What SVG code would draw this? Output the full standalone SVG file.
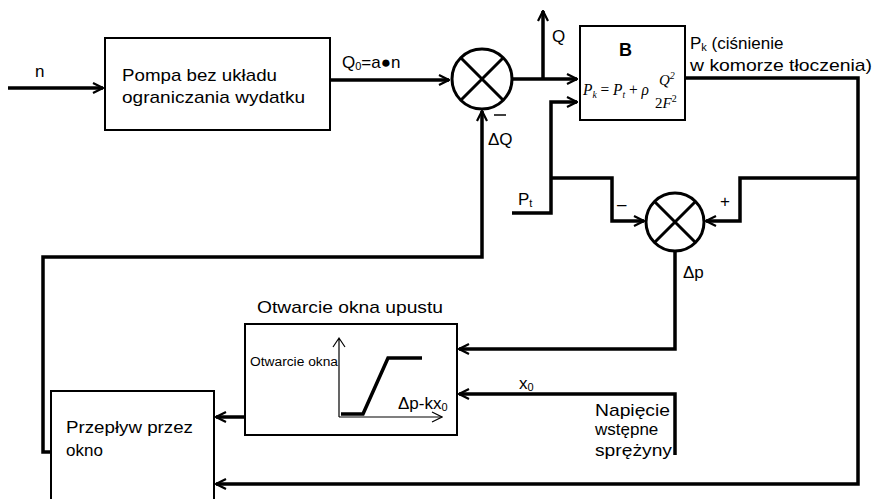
<svg xmlns="http://www.w3.org/2000/svg" width="873" height="499" viewBox="0 0 873 499">
<defs>
<marker id="arr" viewBox="0 0 12 12" refX="11" refY="6" markerWidth="12" markerHeight="12" markerUnits="userSpaceOnUse" orient="auto">
<path d="M1,1 L11,6 L1,11" fill="none" stroke="#000" stroke-width="2.2"/>
</marker>
<marker id="arrs" viewBox="0 0 12 12" refX="11" refY="6" markerWidth="12" markerHeight="12" markerUnits="userSpaceOnUse" orient="auto">
<path d="M1,1 L11,6 L1,11" fill="none" stroke="#000" stroke-width="1.2"/>
</marker>
</defs>
<style>
.t{font-family:"Liberation Sans",Arial,sans-serif;font-size:17px;fill:#000}
.s{font-family:"Liberation Sans",Arial,sans-serif;font-size:12px;fill:#000}
.m{font-family:"Liberation Serif","Times New Roman",serif;font-style:italic;fill:#000}
.box{fill:#fff;stroke:#000;stroke-width:2}
.ln{fill:none;stroke:#000;stroke-width:3.5}
.sum{fill:#fff;stroke:#000;stroke-width:3}
</style>
<rect width="873" height="499" fill="#fff"/>
<g id="connectors">
<path class="ln" d="M8,88 H103" marker-end="url(#arr)"/>
<path class="ln" d="M330,80 H449" marker-end="url(#arr)"/>
<path class="ln" d="M513,79 H577" marker-end="url(#arr)"/>
<path class="ln" d="M543,79 V11" marker-end="url(#arr)"/>
<path class="ln" d="M512,213 H551 V102 H577" marker-end="url(#arr)"/>
<path class="ln" d="M551,178 H612 V221 H644" marker-end="url(#arr)"/>
<path class="ln" d="M685,78 H858 V484 H216" marker-end="url(#arr)"/>
<path class="ln" d="M858,178 H740 V221 H706" marker-end="url(#arr)"/>
<path class="ln" d="M675,251 V349 H459" marker-end="url(#arr)"/>
<path class="ln" d="M675,455 V394 H459" marker-end="url(#arr)"/>
<path class="ln" d="M245,417 H216" marker-end="url(#arr)"/>
<path class="ln" d="M51,452 H43 V257 H482 V111" marker-end="url(#arr)"/>
</g>
<g id="pump">
<rect class="box" x="105" y="38" width="225" height="92"/>
<text class="t" x="122" y="81" textLength="155" lengthAdjust="spacingAndGlyphs">Pompa bez układu</text>
<text class="t" x="122" y="103" textLength="183" lengthAdjust="spacingAndGlyphs">ograniczania wydatku</text>
</g>
<g id="sum1">
<circle class="sum" cx="482" cy="79" r="30"/>
<path d="M461,58 L503,100 M503,58 L461,100" stroke="#000" stroke-width="3"/>
</g>
<g id="blockB">
<rect class="box" x="580" y="26" width="105" height="94"/>
<text x="619" y="56" style="font-family:'Liberation Sans',Arial,sans-serif;font-size:18px;font-weight:bold">B</text>
<text class="m" x="583" y="95" font-size="16" textLength="66" lengthAdjust="spacingAndGlyphs">P<tspan font-size="10" dy="3">k</tspan><tspan dy="-3" font-style="normal"> = </tspan>P<tspan font-size="10" dy="3">t</tspan><tspan dy="-3" font-style="normal"> + </tspan>ρ</text>
<text class="m" x="659" y="85" font-size="15">Q<tspan font-size="10" dy="-6">2</tspan></text>
<text class="m" x="655" y="108" font-size="15"><tspan font-style="normal">2</tspan>F<tspan font-size="10" dy="-6" font-style="normal">2</tspan></text>
</g>
<g id="sum2">
<circle class="sum" cx="675" cy="222" r="29"/>
<path d="M655,202 L695,242 M695,202 L655,242" stroke="#000" stroke-width="3"/>
</g>
<g id="otwarcie">
<text class="t" x="257" y="313" textLength="186" lengthAdjust="spacingAndGlyphs">Otwarcie okna upustu</text>
<rect class="box" x="245" y="324" width="212" height="111"/>
<path d="M339,417 V338 M333,347 L339,338 L345,347" fill="none" stroke="#000" stroke-width="1.2"/>
<path d="M339,417 H442" fill="none" stroke="#000" stroke-width="1.2" marker-end="url(#arrs)"/>
<path d="M341,414 H363 L388,358 H422" fill="none" stroke="#000" stroke-width="3.5"/>
<text class="s" x="250" y="366" textLength="88" lengthAdjust="spacingAndGlyphs">Otwarcie  okna</text>
<text class="t" x="398" y="409">Δp-kx<tspan font-size="11" dy="2">0</tspan></text>
</g>
<g id="przeplyw">
<rect class="box" x="51" y="391" width="163" height="120"/>
<text class="t" x="66" y="433" textLength="127" lengthAdjust="spacingAndGlyphs">Przepływ przez</text>
<text class="t" x="66" y="456">okno</text>
</g>
<g id="labels">
<text class="t" x="35" y="77">n</text>
<text class="t" x="342" y="68">Q<tspan font-size="11" dy="2">0</tspan><tspan dy="-2">=a●n</tspan></text>
<text class="t" x="552" y="42">Q</text>
<text class="t" x="690" y="49">P<tspan font-size="11" dy="2">k</tspan><tspan dy="-2"> (ciśnienie</tspan></text>
<text class="t" x="690" y="71" textLength="182" lengthAdjust="spacingAndGlyphs">w komorze tłoczenia)</text>
<line x1="494" y1="115" x2="506" y2="115" stroke="#000" stroke-width="1.5"/>
<text class="t" x="488" y="145">ΔQ</text>
<text class="t" x="518" y="205">P<tspan font-size="11" dy="2">t</tspan></text>
<text class="t" x="617" y="210">–</text>
<text class="t" x="720" y="207">+</text>
<text class="t" x="683" y="278">Δp</text>
<text class="t" x="519" y="389">x<tspan font-size="11" dy="2">0</tspan></text>
<text class="t" x="595" y="416" textLength="75" lengthAdjust="spacingAndGlyphs">Napięcie</text>
<text class="t" x="595" y="435">wstępne</text>
<text class="t" x="595" y="456" textLength="77" lengthAdjust="spacingAndGlyphs">sprężyny</text>
</g>
</svg>
